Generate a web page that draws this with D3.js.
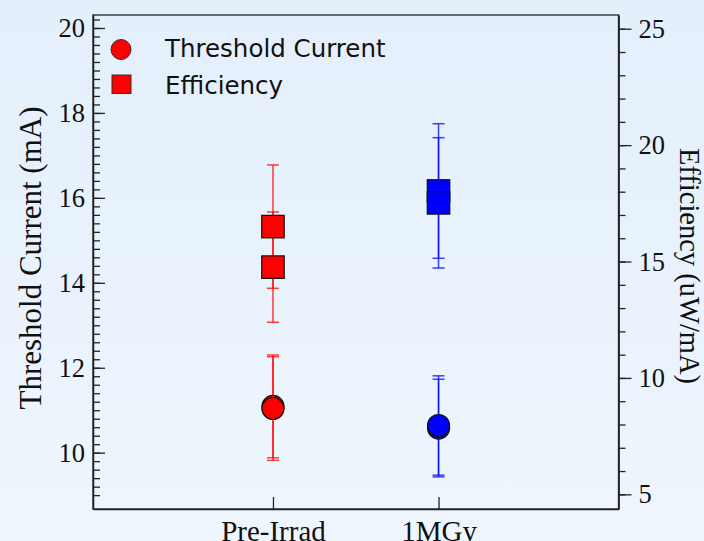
<!doctype html>
<html lang="en">
<head>
<meta charset="UTF-8">
<title>Threshold Current and Efficiency</title>
<script src="https://cdn.jsdelivr.net/npm/d3@7"></script>
<style>
  html, body { margin: 0; padding: 0; overflow: hidden; }
  body { width: 704px; height: 541px; }
  .axis text { font-family: "Liberation Serif", "Times New Roman", serif; fill: #111; }
  .axis path, .axis line { stroke: #222; stroke-width: 1.3; }
</style>
</head>
<body>
<script>
var w = 704, h = 541;
var pLeft = 93, pRight = 618.5, pTop = 15, pBottom = 509;

// data
var categories = ["Pre-Irrad", "1MGy"];
var catColors = ["#ff0000", "#0000ff"];

// threshold current (mA), two runs each, left axis
var thr1 = [11.09, 10.58], thr1Err = [1.21, 1.15];
var thr2 = [11.04, 10.64], thr2Err = [1.22, 1.17];

// efficiency (uW/mA), two runs each, right axis
var eff1 = [16.50, 18.03], eff1Err = [2.65, 2.89];
var eff2 = [14.76, 17.52], eff2Err = [2.37, 2.80];

var leftTicks = [10, 12, 14, 16, 18, 20];
var rightTicks = [5, 10, 15, 20, 25];
var legendLabels = ["Threshold Current", "Efficiency"];

var svg = d3.select("body").append("svg")
    .attr("width", w)
    .attr("height", h);

var grad = svg.append("defs").append("linearGradient")
    .attr("id", "bg")
    .attr("x1", 0).attr("y1", 0).attr("x2", 0).attr("y2", 1);
grad.append("stop").attr("offset", "0%").attr("stop-color", "#e3effb");
grad.append("stop").attr("offset", "100%").attr("stop-color", "#eff6fd");

svg.append("rect")
    .attr("width", w).attr("height", h)
    .attr("fill", "url(#bg)");

var x = d3.scalePoint().domain(categories).range([pLeft, pRight]).padding(1.087);
var yL = d3.scaleLinear().domain([8.674, 20.306]).range([pBottom, pTop]);
var yR = d3.scaleLinear().domain([4.37, 25.59]).range([pBottom, pTop]);

// frame
svg.append("rect")
    .attr("x", pLeft).attr("y", pTop)
    .attr("width", pRight - pLeft).attr("height", pBottom - pTop)
    .attr("fill", "none").attr("stroke", "#222").attr("stroke-width", 1.3);

// left axis, ticks pointing inside
var minorL = d3.range(9.0, 20.3, 0.2).map(function(d) { return Math.round(d * 10) / 10; });
svg.append("g").attr("class", "axis")
    .attr("transform", "translate(" + pLeft + ",0)")
    .call(d3.axisLeft(yL).tickValues(minorL).tickSizeInner(-7).tickSizeOuter(0).tickFormat(""));
svg.append("g").attr("class", "axis")
    .attr("transform", "translate(" + pLeft + ",0)")
    .call(d3.axisLeft(yL).tickValues(leftTicks).tickSizeInner(-12).tickSizeOuter(0).tickPadding(8))
    .call(function(g) { g.selectAll("text").style("font-size", "26.5px"); });

// right axis, ticks pointing outside
var minorR = d3.range(5, 26, 1);
svg.append("g").attr("class", "axis")
    .attr("transform", "translate(" + pRight + ",0)")
    .call(d3.axisRight(yR).tickValues(minorR).tickSizeInner(7).tickSizeOuter(0).tickFormat(""));
svg.append("g").attr("class", "axis")
    .attr("transform", "translate(" + pRight + ",0)")
    .call(d3.axisRight(yR).tickValues(rightTicks).tickSizeInner(13).tickSizeOuter(0).tickPadding(7))
    .call(function(g) { g.selectAll("text").style("font-size", "26.5px"); });

// bottom axis
svg.append("g").attr("class", "axis")
    .attr("transform", "translate(0," + pBottom + ")")
    .call(d3.axisBottom(x).tickSizeInner(-12).tickSizeOuter(0).tickPadding(11))
    .call(function(g) { g.selectAll("text").style("font-size", "29px"); });

// axis titles
svg.append("text")
    .attr("transform", "translate(41," + 258 + ") rotate(-90)")
    .attr("text-anchor", "middle")
    .style("font-family", "Liberation Serif, serif")
    .style("font-size", "31px")
    .attr("fill", "#111")
    .text("Threshold Current (mA)");

svg.append("text")
    .attr("transform", "translate(680," + 266 + ") rotate(90)")
    .attr("text-anchor", "middle")
    .style("font-family", "Liberation Serif, serif")
    .style("font-size", "28.5px")
    .attr("fill", "#111")
    .text("Efficiency (uW/mA)");

// build point lists
function pts(vals, errs, scale) {
  return categories.map(function(c, i) {
    return { cat: c, color: catColors[i], y: scale(vals[i]), y0: scale(vals[i] - errs[i]), y1: scale(vals[i] + errs[i]) };
  });
}
var effSets = [pts(eff1, eff1Err, yR), pts(eff2, eff2Err, yR)];
var thrSets = [pts(thr1, thr1Err, yL), pts(thr2, thr2Err, yL)];
var allSets = effSets.concat(thrSets);

var capW = 6;
var bars = svg.append("g");
allSets.forEach(function(set) {
  var g = bars.selectAll(null).data(set).enter().append("g")
      .attr("stroke", function(d) { return d.color; })
      .attr("stroke-opacity", 0.75)
      .attr("stroke-width", 1.5);
  g.append("line")
      .attr("x1", function(d) { return x(d.cat); }).attr("x2", function(d) { return x(d.cat); })
      .attr("y1", function(d) { return d.y0; }).attr("y2", function(d) { return d.y1; });
  g.append("line")
      .attr("x1", function(d) { return x(d.cat) - capW; }).attr("x2", function(d) { return x(d.cat) + capW; })
      .attr("y1", function(d) { return d.y0; }).attr("y2", function(d) { return d.y0; });
  g.append("line")
      .attr("x1", function(d) { return x(d.cat) - capW; }).attr("x2", function(d) { return x(d.cat) + capW; })
      .attr("y1", function(d) { return d.y1; }).attr("y2", function(d) { return d.y1; });
});

var sq = 22.5;
effSets.forEach(function(set) {
  svg.selectAll(null).data(set).enter().append("rect")
      .attr("x", function(d) { return x(d.cat) - sq / 2; })
      .attr("y", function(d) { return d.y - sq / 2; })
      .attr("width", sq).attr("height", sq)
      .attr("fill", function(d) { return d.color; })
      .attr("stroke", "#111").attr("stroke-width", 1.2);
});

thrSets.forEach(function(set) {
  svg.selectAll(null).data(set).enter().append("circle")
      .attr("cx", function(d) { return x(d.cat); })
      .attr("cy", function(d) { return d.y; })
      .attr("r", 11)
      .attr("fill", function(d) { return d.color; })
      .attr("stroke", "#111").attr("stroke-width", 1.2);
});

// legend
var legend = svg.append("g");
legend.append("circle")
    .attr("cx", 121).attr("cy", 49.5).attr("r", 10)
    .attr("fill", "#ff0000").attr("stroke", "#333").attr("stroke-width", 1);
legend.append("rect")
    .attr("x", 112).attr("y", 75).attr("width", 19).attr("height", 18.5)
    .attr("fill", "#ff0000").attr("stroke", "#333").attr("stroke-width", 1);
legend.selectAll("text").data(legendLabels).enter().append("text")
    .attr("x", 165)
    .attr("y", function(d, i) { return 57 + i * 36.5; })
    .style("font-family", "DejaVu Sans, sans-serif")
    .style("font-size", "24.5px")
    .attr("fill", "#111")
    .text(function(d) { return d; });
</script>
</body>
</html>
